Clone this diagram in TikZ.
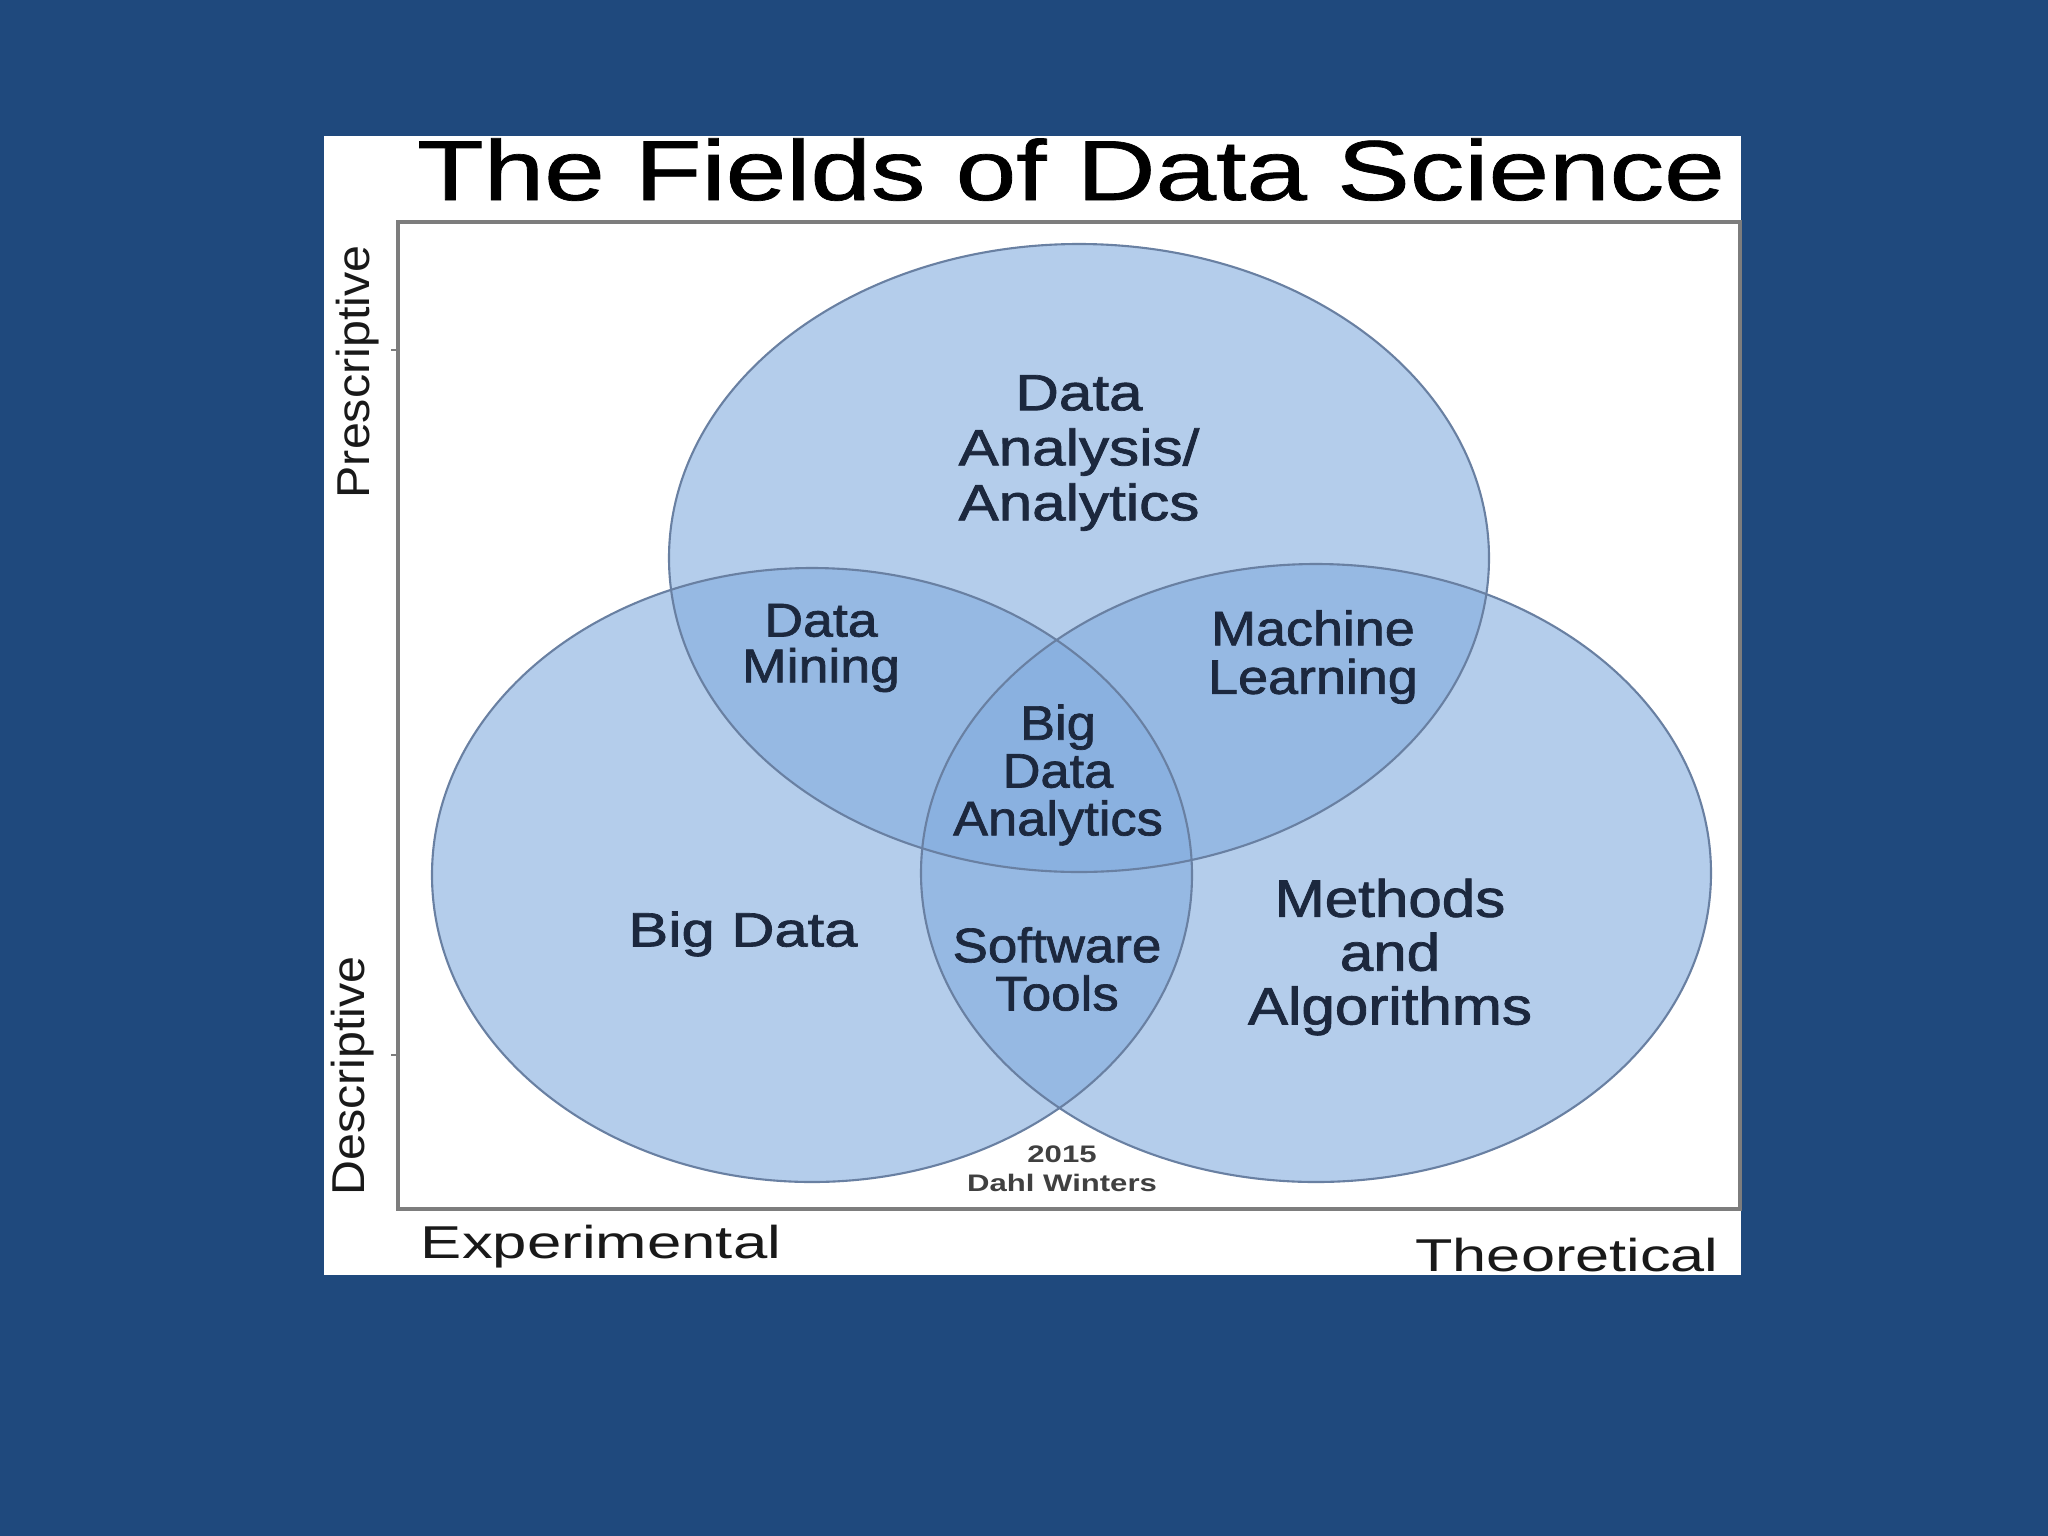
\documentclass[tikz,border=0pt]{standalone}
\usepackage{fontspec}
\setmainfont{Liberation Sans}
\newfontfamily\labfont[FakeBold=1.4]{Liberation Sans}
\newfontfamily\titfont[FakeBold=0.8]{Liberation Sans}
\usepackage{graphicx}
\definecolor{bg}{RGB}{31,73,125}
\definecolor{vfill}{RGB}{130,172,222}
\definecolor{vline}{RGB}{105,128,162}
\definecolor{labc}{RGB}{28,40,62}
\definecolor{axc}{RGB}{25,25,25}
\definecolor{framec}{RGB}{125,125,125}
\begin{document}
\begin{tikzpicture}[x=0.01cm,y=-0.01cm,
  lab/.style={text=labc, align=center, inner sep=0pt, transform shape},
  axlab/.style={text=axc, inner sep=0pt},
  venn/.style={fill=vfill, fill opacity=0.6},
  vennline/.style={draw=vline, line width=0.6pt}]
\useasboundingbox (0,0) rectangle (2048,1536);
\fill[bg] (0,0) rectangle (2048,1536);
\fill[white] (324,136) rectangle (1741,1275);
% frame
\draw[framec, line width=1pt] (398,222) rectangle (1740,1209);
\draw[framec, line width=0.6pt] (391,350) -- (398,350);
\draw[framec, line width=0.6pt] (391,1055) -- (398,1055);
% ellipses
\fill[venn] (1079,558) ellipse [x radius=410, y radius=314];
\fill[venn] (812,875) ellipse [x radius=380, y radius=307];
\fill[venn] (1316,873) ellipse [x radius=395, y radius=309];
\draw[vennline] (1079,558) ellipse [x radius=410, y radius=314];
\draw[vennline] (812,875) ellipse [x radius=380, y radius=307];
\draw[vennline] (1316,873) ellipse [x radius=395, y radius=309];
% title
\node[text=black, inner sep=0pt, anchor=base, font=\titfont\fontsize{24.2}{29}\selectfont, xscale=1.28, transform shape] (title) at (1071,200) {The Fields of Data Science};
% labels
\node[lab, font=\labfont\fontsize{14.5}{15.65}\selectfont, xscale=1.18] (analysis) at (1079,453) {Data\\Analysis/\\Analytics};
\node[lab, font=\labfont\fontsize{13.5}{13}\selectfont, xscale=1.13] (mining) at (821,648) {Data\\Mining};
\node[lab, font=\labfont\fontsize{13.8}{13.8}\selectfont, xscale=1.11] (ml) at (1313,657) {Machine\\Learning};
\node[lab, font=\labfont\fontsize{13.8}{13.6}\selectfont, xscale=1.08] (bda) at (1058,775) {Big\\Data\\Analytics};
\node[lab, font=\labfont\fontsize{13.7}{14}\selectfont, xscale=1.24] (bigdata) at (743,934) {Big Data};
\node[lab, font=\labfont\fontsize{13.8}{13.7}\selectfont, xscale=1.09] (software) at (1057,969) {Software\\Tools};
\node[lab, font=\labfont\fontsize{15}{15.3}\selectfont, xscale=1.14] (methods) at (1390,957) {Methods\\and\\Algorithms};
\node[lab, text=black!75, font=\bfseries\fontsize{6.8}{8.2}\selectfont, xscale=1.3] (credit) at (1062,1169) {2015\\Dahl Winters};
% axis labels
\node[axlab, font=\fontsize{13.1}{15}\selectfont] (exp) at (601,1247) {\scalebox{1.34}[1]{Experimental}};
\node[axlab, font=\fontsize{13.1}{15}\selectfont] (theo) at (1567,1255) {\scalebox{1.33}[1]{Theoretical}};
\node[axlab, font=\fontsize{13.1}{15}\selectfont, rotate=90] (pres) at (358,372) {\scalebox{1.05}[1]{Prescriptive}};
\node[axlab, font=\fontsize{13.1}{15}\selectfont, rotate=90] (desc) at (353,1076) {\scalebox{1.05}[1]{Descriptive}};
\end{tikzpicture}
\end{document}
